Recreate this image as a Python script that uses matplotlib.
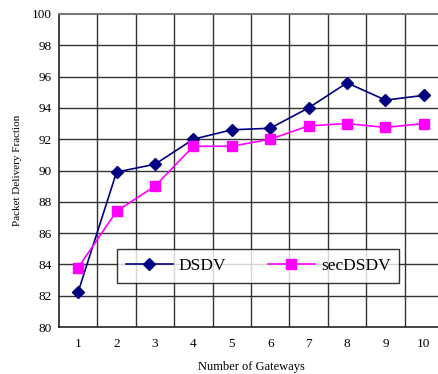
import matplotlib
matplotlib.use("Agg")
import matplotlib.pyplot as plt

# values
gateways = [1, 2, 3, 4, 5, 6, 7, 8, 9, 10]
dsdv = [82.25, 89.9, 90.4, 92.0, 92.6, 92.7, 94.0, 95.6, 94.5, 94.8]
sec_dsdv = [83.8, 87.4, 89.0, 91.55, 91.55, 92.0, 92.85, 93.0, 92.75, 93.0]
y_ticks = [80, 82, 84, 86, 88, 90, 92, 94, 96, 98, 100]

plt.rcParams["font.family"] = ["Liberation Serif", "DejaVu Serif"]

fig = plt.figure(figsize=(4.39, 3.74), dpi=100)
ax = fig.add_axes([59 / 439, 1 - 327 / 374, 384 / 439, 313 / 374])

ax.plot(gateways, dsdv, color="#000080", marker="D", markersize=6.5,
        linewidth=1.2, label="DSDV", zorder=3)
ax.plot(gateways, sec_dsdv, color="#ff00ff", marker="s", markersize=7,
        linewidth=1.2, label="secDSDV", zorder=3)

ax.set_xlim(0.5, 10.5)
ax.set_ylim(80, 100)
ax.set_xticks(gateways)
ax.set_yticks(y_ticks)

# grid: horizontal at ticks, vertical between categories
for y in y_ticks[1:-1]:
    ax.axhline(y, color="#333333", linewidth=1.0, zorder=1)
for i in range(1, len(gateways)):
    ax.axvline(i + 0.5, color="#333333", linewidth=1.0, zorder=1)

for side in ["top", "right"]:
    ax.spines[side].set_color("#777777")
    ax.spines[side].set_linewidth(1.5)
for side in ["left", "bottom"]:
    ax.spines[side].set_color("#222222")
    ax.spines[side].set_linewidth(1.2)

ax.tick_params(axis="both", length=0, labelsize=9.5, pad=8)
ax.tick_params(axis="y", pad=5)

ax.set_xlabel("Number of Gateways", fontsize=9, labelpad=8)
ax.set_ylabel("Packet Delivery Fraction", fontsize=8, labelpad=7)

leg = ax.legend(loc="upper left", bbox_to_anchor=(58 / 384, (327 - 249) / 313),
                ncol=2, fontsize=12.5, frameon=True, fancybox=False,
                edgecolor="black", columnspacing=2.4, handlelength=2.7,
                borderpad=0.5, handletextpad=0.35, borderaxespad=0)
leg.get_frame().set_linewidth(1.0)
leg.set_zorder(5)

fig.savefig("out.png", dpi=100)
